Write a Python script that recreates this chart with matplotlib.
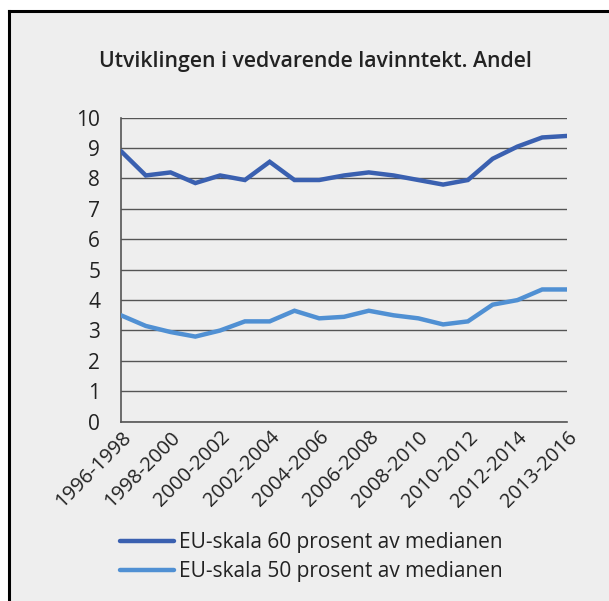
import matplotlib
matplotlib.use('Agg')
import matplotlib.pyplot as plt
import matplotlib.patches as mpatches
from matplotlib.lines import Line2D

plt.rcParams['font.family'] = ['Open Sans', 'DejaVu Sans']

# data
categories = ['1996-1998', '1997-1999', '1998-2000', '1999-2001', '2000-2002',
              '2001-2003', '2002-2004', '2003-2005', '2004-2006', '2005-2007',
              '2006-2008', '2007-2009', '2008-2010', '2009-2011', '2010-2012',
              '2011-2013', '2012-2014', '2013-2015', '2013-2016']
eu60 = [8.9, 8.1, 8.2, 7.85, 8.1, 7.95, 8.55, 7.95, 7.95, 8.1,
        8.2, 8.1, 7.95, 7.8, 7.95, 8.65, 9.05, 9.35, 9.4]
eu50 = [3.5, 3.15, 2.95, 2.8, 3.0, 3.3, 3.3, 3.65, 3.4, 3.45,
        3.65, 3.5, 3.4, 3.2, 3.3, 3.85, 4.0, 4.35, 4.35]
series_names = ['EU-skala 60 prosent av medianen', 'EU-skala 50 prosent av medianen']

DARK = '#3A60B0'
LIGHT = '#5090D3'
BG = '#EEEEEE'
TXT = '#222222'
GRID = '#555555'

W, H = 609, 601
fig = plt.figure(figsize=(W / 100, H / 100), dpi=100)
fig.patch.set_facecolor('white')

# framed panel: black line on left and top, grey fill
fig.patches.append(mpatches.Rectangle((9 / W, 0), 1, 1 - 11 / H, transform=fig.transFigure,
                                      facecolor=BG, edgecolor='none', zorder=-5))
fig.add_artist(Line2D([9 / W, 9 / W], [0, 1 - 11 / H], color='black', lw=2.2,
                      transform=fig.transFigure, zorder=-4))
fig.add_artist(Line2D([9 / W, 1], [1 - 11 / H, 1 - 11 / H], color='black', lw=2.2,
                      transform=fig.transFigure, zorder=-4))

ax = fig.add_axes([121 / W, 1 - 421.7 / H, 446 / W, 304 / H])
ax.set_facecolor(BG)

x = list(range(len(categories)))
ax.plot(x, eu60, color=DARK, lw=3.2, solid_capstyle='round', solid_joinstyle='miter', zorder=3)
ax.plot(x, eu50, color=LIGHT, lw=3.2, solid_capstyle='round', solid_joinstyle='miter', zorder=3)

ax.set_xlim(0, len(categories) - 1)
ax.set_ylim(0, 10)
ax.set_yticks(range(0, 11))
ax.yaxis.grid(True, color=GRID, lw=1.0)
ax.set_axisbelow(True)
ax.set_xticks(x[::2])
ax.set_xticklabels(categories[::2], rotation=45, ha='right', va='top',
                   rotation_mode='anchor', fontsize=14.5, color=TXT)
ax.tick_params(axis='y', labelsize=15, labelcolor=TXT, length=0, pad=15)
ax.tick_params(axis='x', length=0, pad=4)

for s in ['top', 'right']:
    ax.spines[s].set_visible(False)
for s in ['left', 'bottom']:
    ax.spines[s].set_color(GRID)
    ax.spines[s].set_linewidth(1.2)

fig.text(315 / W, 1 - 61 / H, 'Utviklingen i vedvarende lavinntekt. Andel',
         ha='center', va='center', fontsize=15.3, fontweight='semibold', color=TXT)

handles = [Line2D([], [], color=DARK, lw=3.2, solid_capstyle='round'),
           Line2D([], [], color=LIGHT, lw=3.2, solid_capstyle='round')]
fig.legend(handles, series_names, loc='center left',
           bbox_to_anchor=(101 / W, 1 - 557 / H), frameon=False, fontsize=15,
           handlelength=2.6, handletextpad=0.24, labelspacing=0.38, labelcolor=TXT)

fig.savefig('out.png', dpi=100, facecolor='white')
